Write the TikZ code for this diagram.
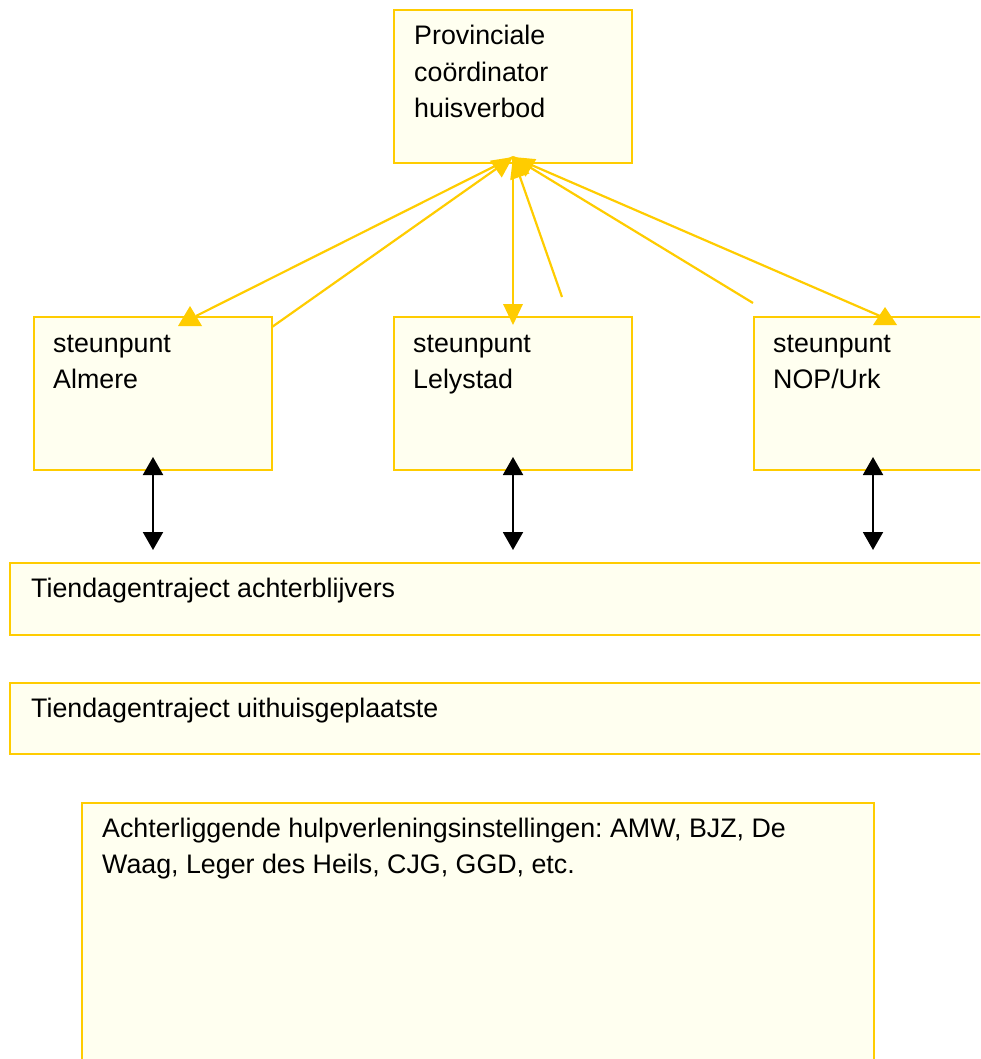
\documentclass[tikz,border=0pt]{standalone}
\usepackage{fontspec}
\setmainfont{Liberation Sans}
\usetikzlibrary{arrows.meta,calc}
\definecolor{boxline}{RGB}{255,204,0}
\definecolor{boxfill}{RGB}{255,255,240}
\frenchspacing
\begin{document}
\begin{tikzpicture}[x=1pt,y=-1pt,
  box/.style={draw=boxline, fill=boxfill, line width=2pt, anchor=north west, inner sep=0pt, rectangle},
  small/.style={minimum width=238pt, minimum height=153pt},
  txt/.style={anchor=base west, inner sep=0pt, font=\fontsize{26.8}{36.5}\selectfont, text=black},
  yl/.style={draw=boxline, line width=2.2pt},
  ytip/.style={yl, -{Triangle[length=21pt,width=20pt]}},
  bl/.style={draw=black, line width=2pt, {Triangle[length=18pt,width=20pt]}-{Triangle[length=18pt,width=20pt]}},
  tri/.style={fill=boxline}]
\useasboundingbox (0,0) rectangle (980,1059);
\clip (0,0) rectangle (980,1059);
% boxes
\node[box, small] (top) at (393,9) {};
\node[box, small] (alm) at (33,316) {};
\node[box, small] (lel) at (393,316) {};
\node[box, small] (nop) at (753,316) {};
\node[box, minimum width=1000pt, minimum height=72pt] (ach) at (9,562) {};
\node[box, minimum width=1000pt, minimum height=71pt] (uit) at (9,682) {};
\node[box, minimum width=792pt, minimum height=300pt] (hulp) at (81,802) {};
% texts
\node[txt] (t1) at ($(top.north west)+(21,36)$) {Provinciale};
\node[txt] (t2) at ($(top.north west)+(21,72.5)$) {coördinator};
\node[txt] (t3) at ($(top.north west)+(21,109)$) {huisverbod};
\node[txt] (t4) at ($(alm.north west)+(20,36)$) {steunpunt};
\node[txt] (t5) at ($(alm.north west)+(20,72.5)$) {Almere};
\node[txt] (t6) at ($(lel.north west)+(20,36)$) {steunpunt};
\node[txt] (t7) at ($(lel.north west)+(20,72.5)$) {Lelystad};
\node[txt] (t8) at ($(nop.north west)+(20,36)$) {steunpunt};
\node[txt] (t9) at ($(nop.north west)+(20,72.5)$) {NOP/Urk};
\node[txt] (t10) at ($(ach.north west)+(22,35)$) {Tiendagentraject achterblijvers};
\node[txt] (t11) at ($(uit.north west)+(22,35)$) {Tiendagentraject uithuisgeplaatste};
\node[txt] (t12) at ($(hulp.north west)+(21,35)$) {Achterliggende hulpverleningsinstellingen: AMW, BJZ, De};
\node[txt] (t13) at ($(hulp.north west)+(21,71)$) {Waag, Leger des Heils, CJG, GGD, etc.};
% coordinates for connectors
\coordinate (hub) at (513,157);
\coordinate (almin) at (196,316);
\coordinate (almout) at (272,327);
\coordinate (lelin) at (513,305);
\coordinate (lelout) at (562,297);
\coordinate (nopin) at (880,316);
\coordinate (nopout) at (753,303);
% yellow connectors
\draw[yl] (hub) -- (almin);
\draw[ytip] (almout) -- (hub);
\draw[yl] (hub) -- (lelin);
\draw[ytip] (lelout) -- (hub);
\draw[yl] (hub) -- (nopin);
\draw[ytip] (nopout) -- (hub);
% bottom arrowheads as drawn
\fill[tri] (178,326) -- (202,326) -- (190,306) -- cycle;
\fill[tri] (503,304) -- (523,304) -- (513,325) -- cycle;
\fill[tri] (873,325) -- (897,325) -- (885,307) -- cycle;
% black double arrows
\coordinate (a1) at (153,457);
\coordinate (a2) at (153,550);
\coordinate (b1) at (513,457);
\coordinate (b2) at (513,550);
\coordinate (c1) at (873,457);
\coordinate (c2) at (873,550);
\draw[bl] (a1) -- (a2);
\draw[bl] (b1) -- (b2);
\draw[bl] (c1) -- (c2);
\end{tikzpicture}
\end{document}
